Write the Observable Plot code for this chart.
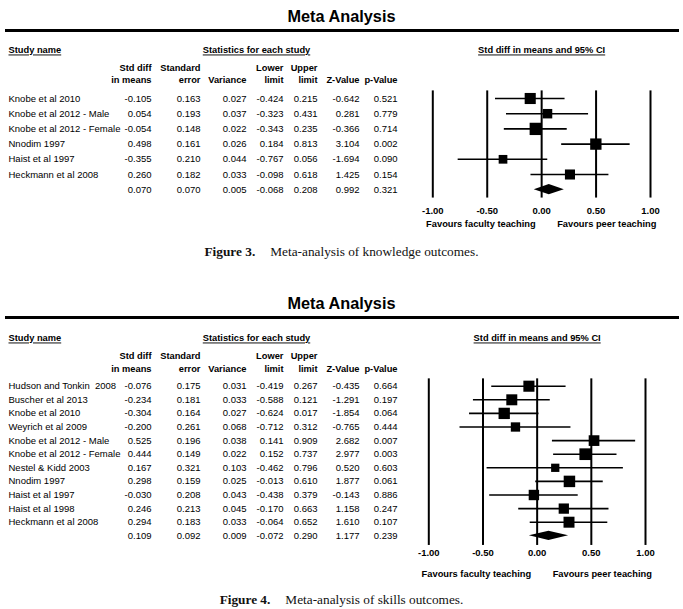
<!DOCTYPE html>
<html><head><meta charset="utf-8">
<script src="https://cdn.jsdelivr.net/npm/d3@7"></script>
<script src="https://cdn.jsdelivr.net/npm/@observablehq/plot@0.6"></script>
<style>
body{margin:0;background:#fff;}
#page{position:relative;width:683px;height:609px;overflow:hidden;font-family:"Liberation Sans",Arial,sans-serif;background:#fff;}
.title{position:absolute;left:0;width:683px;text-align:center;font-weight:bold;font-size:16.3px;line-height:20px;color:#000;}
.rule{position:absolute;left:5px;width:674px;height:3.5px;background:#000;}
.fig{position:absolute;left:0;}
.caption{position:absolute;left:0;width:683px;text-align:center;font-family:"Liberation Serif","DejaVu Serif",serif;font-size:13.3px;line-height:18px;color:#111;}
.caption b{margin-right:15px;}
svg text{white-space:pre;}
</style></head>
<body>
<div id="page"></div>
<script>
// ---------- shared labels ----------
const xTicks = [-1, -0.5, 0, 0.5, 1];
const columns = ["stdDiff", "se", "variance", "lower", "upper", "z", "p"];
const colHeadTop = ["Std diff", "Standard", "", "Lower", "Upper", "", ""];
const colHeadBottom = ["in means", "error", "Variance", "limit", "limit", "Z-Value", "p-Value"];
const sectionHeads = ["Study name", "Statistics for each study", "Std diff in means and 95% CI"];
const favours = ["Favours faculty teaching", "Favours peer teaching"];
const titles = ["Meta Analysis", "Meta Analysis"];
const captionLabels = ["Figure 3.", "Figure 4."];
const captionTexts = ["Meta-analysis of knowledge outcomes.", "Meta-analysis of skills outcomes."];

// ---------- Figure 3: knowledge outcomes ----------
const names3 = ["Knobe et al 2010", "Knobe et al 2012 - Male", "Knobe et al 2012 - Female", "Nnodim 1997", "Haist et al 1997", "Heckmann et al 2008"];
const stdDiff3 = [-0.105, 0.054, -0.054, 0.498, -0.355, 0.260];
const se3 = [0.163, 0.193, 0.148, 0.161, 0.210, 0.182];
const variance3 = [0.027, 0.037, 0.022, 0.026, 0.044, 0.033];
const lower3 = [-0.424, -0.323, -0.343, 0.184, -0.767, -0.098];
const upper3 = [0.215, 0.431, 0.235, 0.813, 0.056, 0.618];
const z3 = [-0.642, 0.281, -0.366, 3.104, -1.694, 1.425];
const p3 = [0.521, 0.779, 0.714, 0.002, 0.090, 0.154];
const weight3 = [18.4, 13.4, 22.6, 19.2, 11.3, 15.1]; // relative weight (%)
const summary3 = [0.070, 0.070, 0.005, -0.068, 0.208, 0.992, 0.321];

// ---------- Figure 4: skills outcomes ----------
const names4 = ["Hudson and Tonkin  2008", "Buscher et al 2013", "Knobe et al 2010", "Weyrich et al 2009", "Knobe et al 2012 - Male", "Knobe et al 2012 - Female", "Nestel & Kidd 2003", "Nnodim 1997", "Haist et al 1997", "Haist et al 1998", "Heckmann et al 2008"];
const stdDiff4 = [-0.076, -0.234, -0.304, -0.200, 0.525, 0.444, 0.167, 0.298, -0.030, 0.246, 0.294];
const se4 = [0.175, 0.181, 0.164, 0.261, 0.196, 0.149, 0.321, 0.159, 0.208, 0.213, 0.183];
const variance4 = [0.031, 0.033, 0.027, 0.068, 0.038, 0.022, 0.103, 0.025, 0.043, 0.045, 0.033];
const lower4 = [-0.419, -0.588, -0.624, -0.712, 0.141, 0.152, -0.462, -0.013, -0.438, -0.170, -0.064];
const upper4 = [0.267, 0.121, 0.017, 0.312, 0.909, 0.737, 0.796, 0.610, 0.379, 0.663, 0.652];
const z4 = [-0.435, -1.291, -1.854, -0.765, 2.682, 2.977, 0.520, 1.877, -0.143, 1.158, 1.610];
const p4 = [0.664, 0.197, 0.064, 0.444, 0.007, 0.003, 0.603, 0.061, 0.886, 0.247, 0.107];
const weight4 = [9.9, 9.7, 10.3, 7.0, 9.2, 11.0, 5.5, 10.6, 8.7, 8.5, 9.7]; // relative weight (%)
const summary4 = [0.109, 0.092, 0.009, -0.072, 0.290, 1.177, 0.239];

// ---------- layout (pixels) ----------
const colRight = [151, 200, 246, 283, 317, 359, 397];
const layouts = [
  {titleTop: 6, ruleTop: 28.5, svgTop: 33, height: 203, headY: 17, colTopY: 34.5, colBotY: 47,
   row0: 65, rowStep: 15.2, lineTop: 0.5, lineBottom: 0.55, xRange: [432.3, 650], tickY: 177,
   favY: 190.3, rMax: 6.94, captionTop: 243},
  {titleTop: 293, ruleTop: 315.5, svgTop: 320, height: 262, headY: 18, colTopY: 36, colBotY: 48.5,
   row0: 65.7, rowStep: 13.6, lineTop: 0.54, lineBottom: 0.71, xRange: [428.3, 645], tickY: 232,
   favY: 253.5, rMax: 6.6, captionTop: 591}
];

const figures = [
  {names: names3, stdDiff: stdDiff3, se: se3, variance: variance3, lower: lower3, upper: upper3, z: z3, p: p3, weight: weight3, summary: summary3},
  {names: names4, stdDiff: stdDiff4, se: se4, variance: variance4, lower: lower4, upper: upper4, z: z4, p: p4, weight: weight4, summary: summary4}
];

const page = document.getElementById("page");
const fmt3 = d => d.toFixed(3);      // hyphen-minus as in the original table
const fmtTick = d => d.toFixed(2);
const bodySize = 9.5, headSize = 9.3, tickPad = 3;

figures.forEach((f, k) => {
  const L = layouts[k];
  const rows = f.names.map((name, i) => ({
    name, stdDiff: f.stdDiff[i], se: f.se[i], variance: f.variance[i], lower: f.lower[i],
    upper: f.upper[i], z: f.z[i], p: f.p[i], weight: f.weight[i], row: i
  }));
  const n = rows.length;
  const summary = {name: "", row: n};
  columns.forEach((c, j) => summary[c] = f.summary[j]);
  const table = [...rows, summary];
  const dh = 0.34;
  const diamond = [
    {x: summary.lower, y1: n, y2: n},
    {x: summary.stdDiff, y1: n - dh, y2: n + dh},
    {x: summary.upper, y1: n, y2: n}
  ];

  // title + rule
  const t = document.createElement("div");
  t.className = "title"; t.style.top = L.titleTop + "px"; t.textContent = titles[k];
  page.appendChild(t);
  const r = document.createElement("div");
  r.className = "rule"; r.style.top = L.ruleTop + "px";
  page.appendChild(r);

  const head = {fontWeight: "bold", fontSize: headSize, lineAnchor: "middle"};
  const marks = [];
  // section headings
  marks.push(Plot.text([sectionHeads[0]], {frameAnchor: "top-left", dx: 8, dy: L.headY, textAnchor: "start", ...head}));
  marks.push(Plot.text([sectionHeads[1]], {frameAnchor: "top-left", dx: 256, dy: L.headY, textAnchor: "middle", ...head}));
  marks.push(Plot.text([sectionHeads[2]], {x: () => 0, frameAnchor: "top", dy: L.headY, textAnchor: "middle", ...head}));
  // column headers + values
  columns.forEach((c, j) => {
    if (colHeadTop[j]) marks.push(Plot.text([colHeadTop[j]], {frameAnchor: "top-left", dx: colRight[j], dy: L.colTopY, textAnchor: "end", ...head}));
    marks.push(Plot.text([colHeadBottom[j]], {frameAnchor: "top-left", dx: colRight[j], dy: L.colBotY, textAnchor: "end", ...head}));
    marks.push(Plot.text(table, {y: "row", text: d => fmt3(d[c]), frameAnchor: "left", dx: colRight[j], textAnchor: "end", fontSize: bodySize, lineAnchor: "middle"}));
  });
  // study names
  marks.push(Plot.text(rows, {y: "row", text: "name", frameAnchor: "left", dx: 8, textAnchor: "start", fontSize: bodySize, lineAnchor: "middle"}));
  // forest plot
  marks.push(Plot.ruleX(xTicks, {x: d => d, y1: () => -L.lineTop, y2: () => n + L.lineBottom, strokeWidth: 2, stroke: "black"}));
  marks.push(Plot.ruleY(rows, {y: "row", x1: "lower", x2: "upper", strokeWidth: 1.6, stroke: "black"}));
  marks.push(Plot.dot(rows, {x: "stdDiff", y: "row", r: "weight", symbol: "square", fill: "black", stroke: null}));
  marks.push(Plot.areaY(diamond, {x: "x", y1: "y1", y2: "y2", fill: "black"}));
  marks.push(Plot.axisX({ticks: xTicks, tickFormat: fmtTick, tickSize: 0, tickPadding: tickPad, fontWeight: "bold", fontSize: bodySize, label: null, anchor: "bottom"}));
  marks.push(Plot.text([favours[0]], {x: () => 0, frameAnchor: "top", dy: L.favY, dx: -6, textAnchor: "end", ...head}));
  marks.push(Plot.text([favours[1]], {x: () => 0, frameAnchor: "top", dy: L.favY, dx: 15.5, textAnchor: "start", ...head}));

  const frameBottom = L.tickY - tickPad - 0.35 * bodySize;
  const chart = Plot.plot({
    width: 683,
    height: L.height,
    marginTop: 0, marginLeft: 0, marginRight: 0,
    marginBottom: L.height - frameBottom,
    x: {domain: [-1, 1], range: L.xRange},
    y: {domain: [0, n], range: [L.row0, L.row0 + n * L.rowStep], axis: null},
    r: {type: "sqrt", domain: [0, d3.max(f.weight)], range: [0, L.rMax]},
    style: {fontFamily: "'Liberation Sans', Arial, sans-serif", fontSize: bodySize + "px", color: "black", background: "transparent", overflow: "visible"},
    marks
  });
  d3.select(chart).selectAll("text")
    .filter(function () { return sectionHeads.includes(this.textContent); })
    .style("text-decoration", "underline");
  const wrap = document.createElement("div");
  wrap.className = "fig"; wrap.style.top = L.svgTop + "px";
  wrap.appendChild(chart);
  page.appendChild(wrap);

  const cap = document.createElement("div");
  cap.className = "caption"; cap.style.top = L.captionTop + "px";
  const b = document.createElement("b"); b.textContent = captionLabels[k];
  cap.appendChild(b);
  cap.appendChild(document.createTextNode(captionTexts[k]));
  page.appendChild(cap);
});
</script>
</body></html>
